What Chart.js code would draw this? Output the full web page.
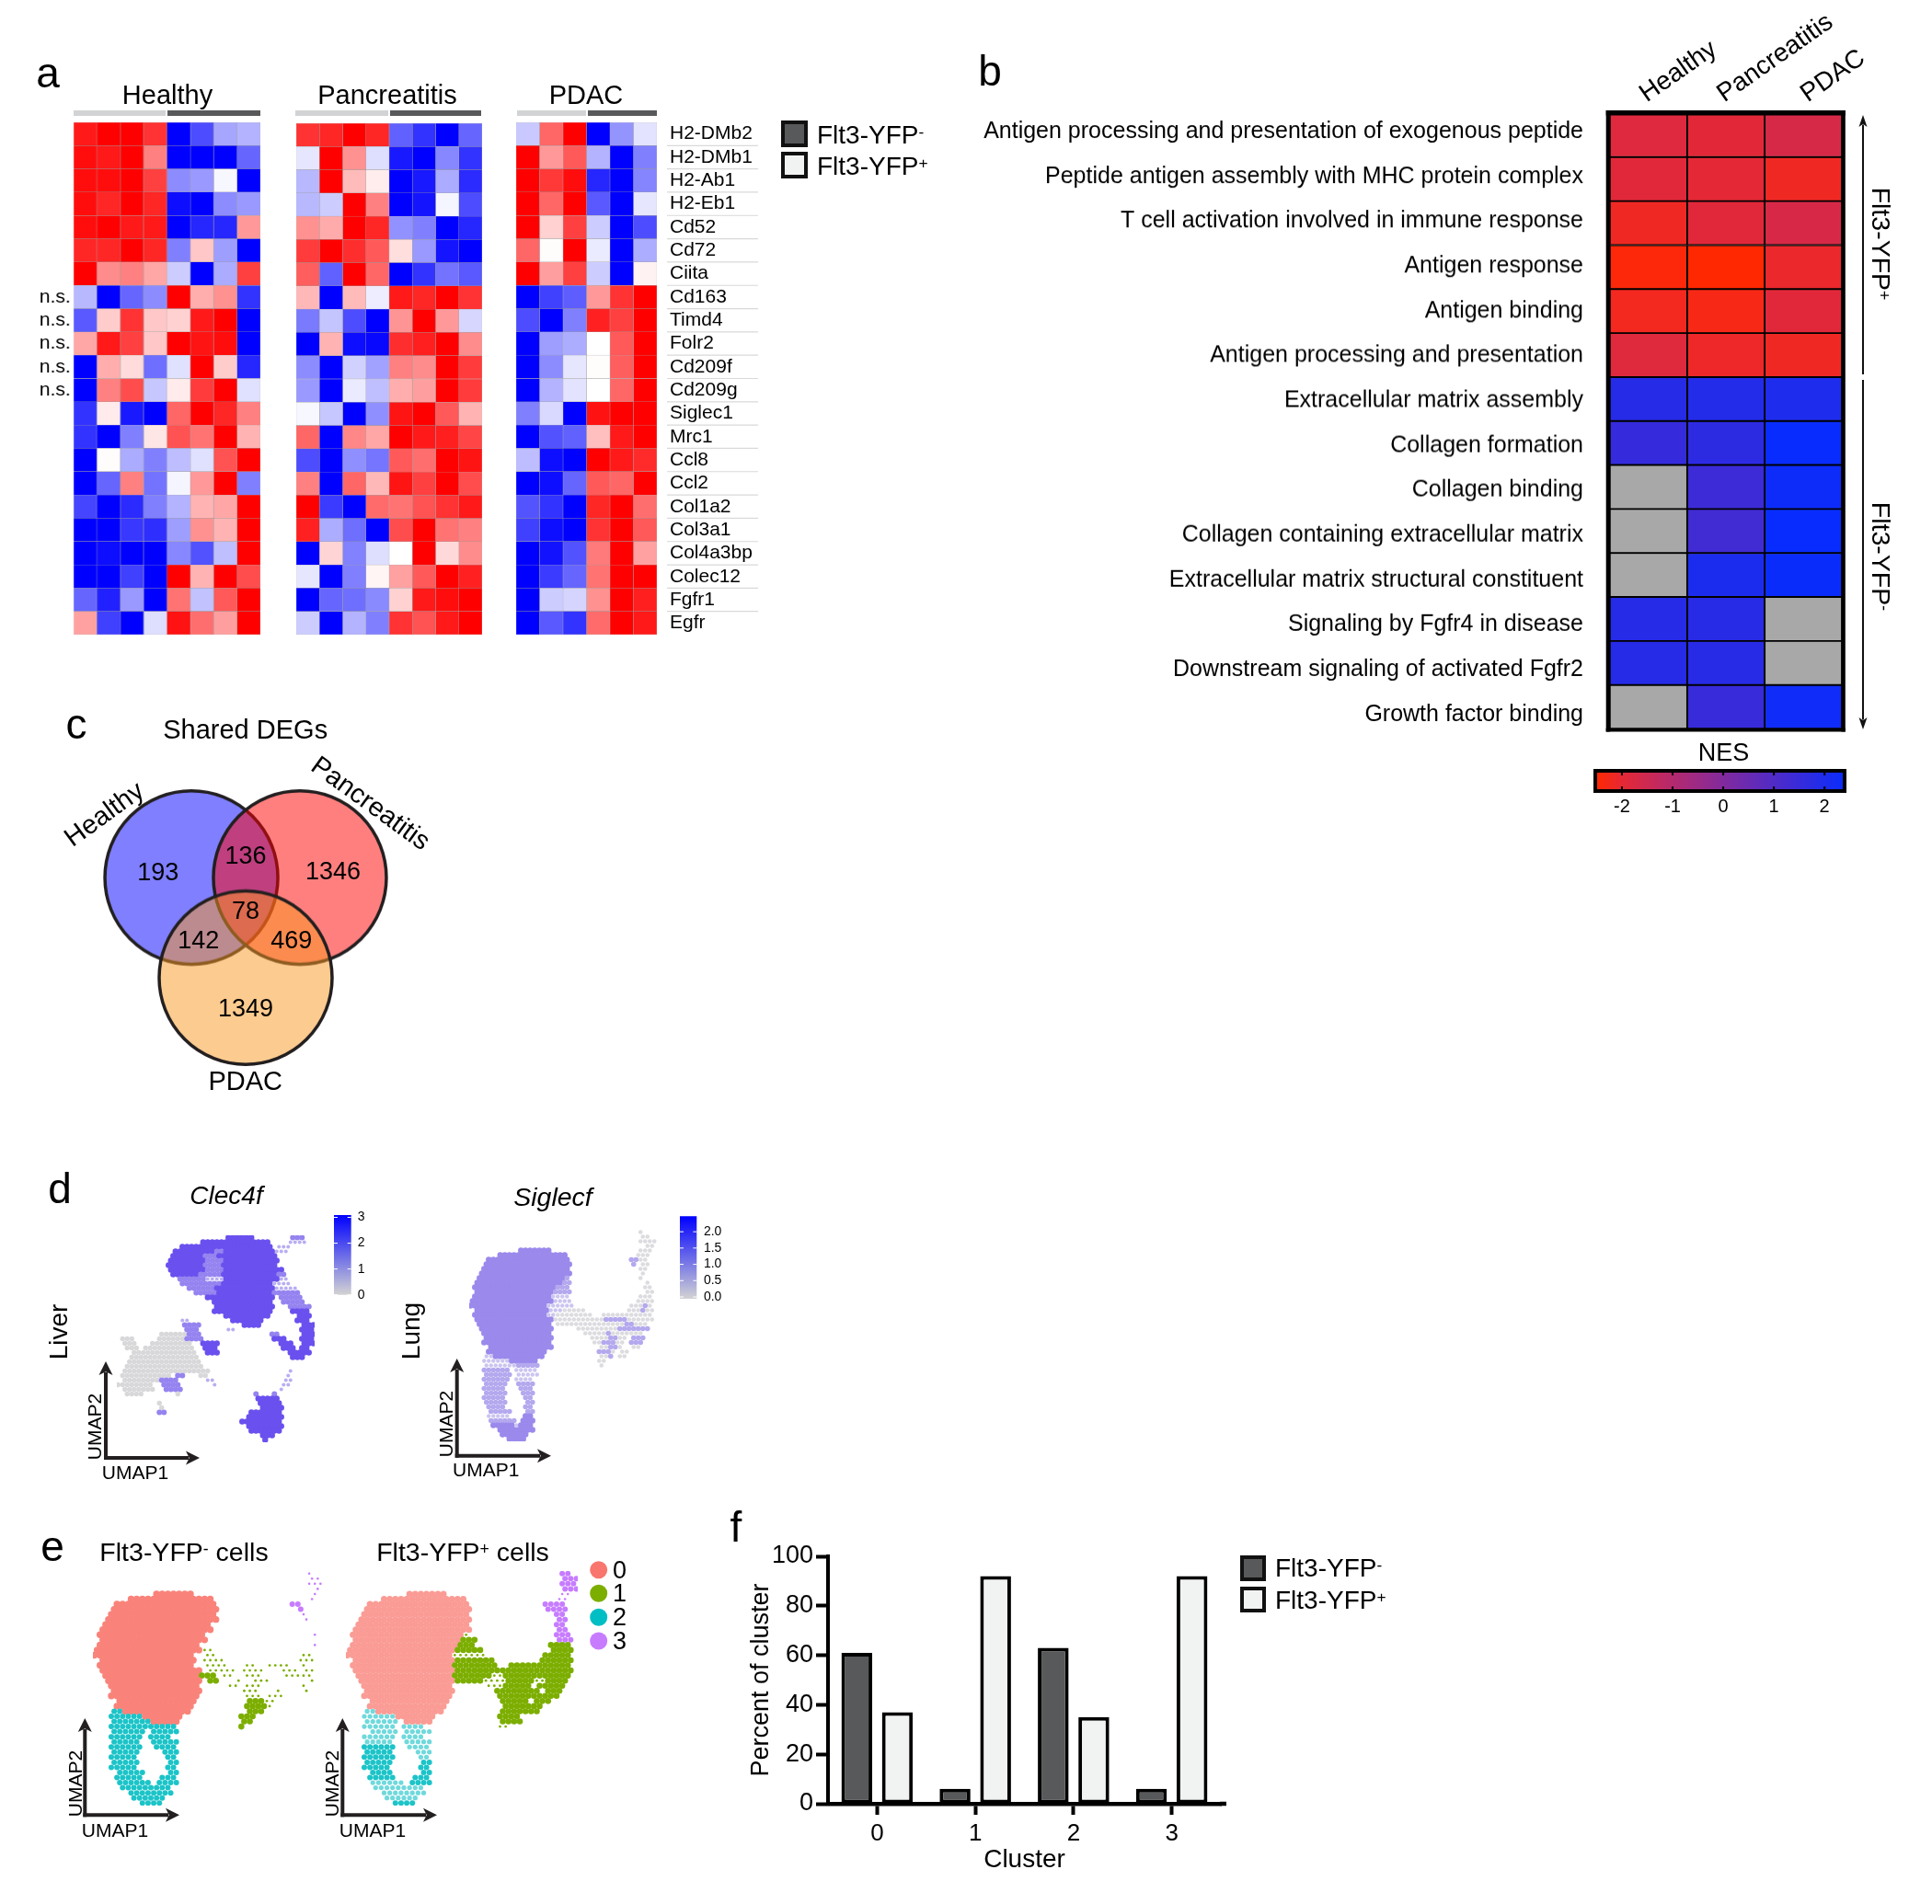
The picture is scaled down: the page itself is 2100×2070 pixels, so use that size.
<!DOCTYPE html>
<html><head><meta charset="utf-8">
<script src="https://cdn.jsdelivr.net/npm/chart.js@4"></script>
<style>
html,body{margin:0;padding:0;background:#fff;width:2100px;height:2070px;overflow:hidden}
canvas{position:absolute;display:block}
.t{position:absolute;font-family:"Liberation Sans",Arial,sans-serif;color:#000;white-space:nowrap;line-height:1}
.t sup{font-size:62%;line-height:0;vertical-align:baseline;position:relative;top:-.42em}
.k{position:absolute;box-sizing:border-box;border:4px solid #111}
svg{position:absolute;left:0;top:0}
</style></head><body>
<svg id="ov" width="2100" height="2070"></svg>
<script>
/* ---------- panel a ---------- */
const genes=["H2-DMb2","H2-DMb1","H2-Ab1","H2-Eb1","Cd52","Cd72","Ciita","Cd163","Timd4","Folr2","Cd209f","Cd209g","Siglec1","Mrc1","Ccl8","Ccl2","Col1a2","Col3a1","Col4a3bp","Colec12","Fgfr1","Egfr"];
const nsGenes=["Cd163","Timd4","Folr2","Cd209f","Cd209g"];
const healthyZ=[
[9,10,10,8,-10,-7,-3.5,-3],[9.5,9,10,5,-10,-10,-10,-6],[9.5,9.5,10,7.5,-4.5,-4,-.3,-10],[9.5,8.5,10,8.5,-9.5,-10,-4.5,-4],
[9.5,10,9,9,-10,-8.5,-8.5,4],[8.5,8.5,10,8.5,-5,2.2,-3.8,-10],[10,4.5,5,3.5,-2,-10,-3.3,7.5],[-2.8,-10,-6,-4.5,10,3.2,4.3,-8],
[-6.5,2,8,2.2,1.8,9,10,-10],[3.5,9,7.5,2.2,10,9.2,9.5,-10],[-10,3.2,1.4,-5.7,-1.2,10,2,-8.5],[-10,5,7,-2.2,.8,7.7,10,-1.2],
[-8,.8,-9,-10,6,10,8.5,5],[-8,-10,-5,1,6.8,5.5,10,3],[-10,.1,-3.3,-5,-2.6,-1.2,6.8,10],[-10,-6,5,-5.5,-.4,4,10,-5],
[-7.3,-10,-8.3,-5,-3,3,3.5,10],[-10,-10,-7.8,-8.2,-3.8,4.3,3,10],[-10,-9.5,-10,-10,-4.7,-6.8,-2.5,10],[-10,-10,-7.5,-10,10,3,10,7],
[-6,-8.7,-4,-10,5.5,-2.4,6.5,10],[3.7,-7.5,-10,-1.3,9.3,5.7,3.8,10]];
const pancreatitisZ=[
[8,8.5,10,8.5,-6.2,-8,-10,-6],[-1,10,4.3,-1.3,-9,-10,-4.7,-8],[-2.8,10,2.7,.7,-10,-9,-3.3,-8.3],[-2.8,-2,10,5,-10,-9.2,-.4,-7],
[4.3,3.3,10,8.5,-4.3,-5,-10,-8.5],[7.7,10,8.2,6.5,1.3,-4,-9.2,-10],[6.3,-6.2,10,6,-10,-8,-5.5,-6.5],[2.8,-10,2.7,-.7,9,8.5,10,8],
[-5.2,-2.3,-7,-10,4.2,10,4,-1.6],[-10,3,-9.5,-9.7,8.2,8.8,10,4.5],[-4.5,-10,-1.8,-3.7,5,4.5,10,7.7],[-4,-10,-.8,-2.5,3.2,3.8,10,7.7],
[-.3,-2.2,-10,-4.4,9.2,10,6.5,3],[6,-10,4.7,3.5,10,9,8.8,7.3],[-7,-10,-4.4,-5.4,6.5,5.7,10,9.2],[5,-10,6,2.8,9.2,7.5,10,7],
[10,-7.7,-10,5.8,5.5,6.8,8,9],[8.7,-3.2,-5.7,-10,7,10,5.5,5],[-10,1.7,-4.9,-1.3,0,10,1.5,4.5],[-1,-10,-5,.4,3.7,6.5,10,8.7],
[-10,-6,-5.7,-4.6,1.8,9,9.5,10],[-2,-10,-3,-5,8,6.8,9,10]];
const pdacZ=[
[-2.1,6,10,-10,-4.2,-1.1],[10,4,6.5,-3,-10,-5],[10,7.8,9.5,-8.5,-10,-4.8],[10,6,10,-6.5,-10,-1],[10,1.8,7.5,-2,-10,-7],[6,.1,10,-.8,-10,-3.2],
[10,3.8,7.5,-2,-10,.5],[-10,-7.5,-6.3,4,8,10],[-7,-10,-5,8.7,7.5,10],[-10,-3.8,-3.2,0,6.5,10],[-10,-4.5,-1,.1,6.3,10],[-10,-3,-1.1,0,6,10],
[-5,-1.5,-10,9.3,10,10],[-10,-6.8,-6.2,2.5,9,10],[-2.6,-9.5,-10,10,9,8.3],[-10,-9.5,-6,6.5,6,10],[-6.7,-8,-10,8.5,10,5.7],[-7.5,-9.5,-10,8,10,6.5],
[-10,-9.3,-6.8,5.2,10,3.7],[-10,-7.7,-6,5.5,10,10],[-10,-2,-1.7,4.3,10,8.8],[-10,-6.5,-8,5.8,10,9]];
/* ---------- panel b ---------- */
const pathways=["Antigen processing and presentation of exogenous peptide","Peptide antigen assembly with MHC protein complex","T cell activation involved in immune response","Antigen response","Antigen binding","Antigen processing and presentation","Extracellular matrix assembly","Collagen formation","Collagen binding","Collagen containing extracellular matrix","Extracellular matrix structural constituent","Signaling by Fgfr4 in disease","Downstream signaling of activated Fgfr2","Growth factor binding"];
const conditions=["Healthy","Pancreatitis","PDAC"];
const nes=[[-1.84,-1.92,-1.68],[-1.9,-1.95,-2.2],[-2.2,-1.9,-1.7],[-2.45,-2.5,-2.1],[-2.25,-2.35,-1.9],[-1.85,-2.15,-2.2],
[1.85,1.9,2.0],[1.55,1.7,2.45],[null,1.4,2.35],[null,1.3,2.45],[null,2.05,2.4],[1.85,1.8,null],[1.85,1.8,null],[null,1.5,2.3]];
const nesTicks=[-2,-1,0,1,2];
/* ---------- panel c ---------- */
const vennSets=["Healthy","Pancreatitis","PDAC"];
const vennX=[-1,1,0], vennY=[.92,.92,-.92];
const vennCounts={healthy:193,healthyPanc:136,panc:1346,all:78,healthyPdac:142,pancPdac:469,pdac:1349};
/* ---------- panels d, e: occupancy grids read from the UMAPs, one string per row: "col-col code" ---------- */
const liverRows=["24-29# 38-40o","18-32# 37-40.","14-33# 35-37.","12-20# 21-22o 23-33# 34-36.","12-18# 19-21o 22-34#","11-18# 19-22o 23-34#","11-18# 19-22o 23-34#","11-18# 19-22o 23-35#","12-17# 18-22o 23-34# 35-36o","13-18o 19-22. 23-34# 35-36.","14-19o 20-22o 23-33# 34-37.","15-20o 21-33# 34-38.","17-21o 22-33# 34o 35-39o","19-33# 35-39o","21-33# 36-40o","21-33# 37-41o","21-33# 38-41#","23-32# 39-41#","14-15. 25-31# 39-41#","14-17o 27-30# 40-42#","15-17o 24-25. 40-42#","9-14, 15-17o 33-34o 40-42#","1-3, 9-14, 15-18o 34-36# 40-42#","1-3, 7-15, 18-21# 35-37# 40-42#","2-4, 6-16, 19-21# 36-38# 40-41#","3-16, 19-21# 37-41#","3-17, 38-40#","2-17,","2-18,","1-19, 37.","1-11, 13-14o 18-19, 37.","1-8, 9-12o 19-20. 36-37.","0-7, 10-13o 21. 36-37.","1-7, 10-13o 35.","2-5, 13, 30o 34o","30-34#","9, 31-35#","9, 31-35#","9-10o 29-35#","28-35#","27-35#","28-35#","29-35#","31-33#","32#"];
const lungRows=["37,","37-38,","37-40,","38-39,","11-17# 37-39,","6-20# 36-38,","4-21# 35-36o 37-38,","3-21# 35o 37-38,","3-21# 37-38,","2-21# 37,","2-20# 21o 37,","1-19# 20-21o 38,","1-18# 19-21o 38-39,","1-17# 18-21o 38-39,","1-17# 18-21. 37-39,","0-17# 18-21. 36-39,","0-16# 17-22. 35-37, 38o 39,","1-16# 17-19. 20-24, 34-36, 37o 38-39,","1-16# 17-18. 19-26, 29-39,","1-17# 18-28, 29-33o 34-39,","2-17# 19-27, 28-33, 34-35o 36-38,","2-17# 23-26, 27-31, 32-38o","3-17# 25-29, 30o 31-37,","3-17# 26-29, 30-31o 32-33, 35-37o","3-17# 27-28, 29-31o 32-33, 35-37o","4-17# 28-29, 30-31o 32, 35-36,","4-16# 28-30o 31, 33-34,","3-4. 5-15# 28-29, 30o 32-33,","3-8. 9-14# 28-29,","3-9. 10-14o 28,","3-8o 10-14.","3-8o 10-14.","3-8o 10-13.","3-7o 10-13o","3-7o 11-13o","3-7o 11-13o","3-7o 12-13o","3-7o 12-13o","4-7o 12-13o","4-8o 12-13o","4-8. 12-13#","4-9o 11-13#","5-9# 10. 11-13#","6-13#","7-12#","8-11#"];
const yfpNegRows=["38d","38-39d","38-40d","39d","11-17A 39d","6-20A 38d","4-21A 35-36D","3-21A 36D","3-21A 37d","2-21A 37d","2-20A","1-20A","1-19A 39d","1-19A","1-18A 39d","0-18A 19-20b","0-17A 20-21b 37-38b","1-17A 19-22b 36-38b","1-17A 20-23b 27-28b 31-34b 37b","1-18A 20-24b 26-29b 33-35b 37-38b","2-18A 19-21B 23-24b 27-29b 34-38b","2-18A 20-21B 25b 28-30b 38b","3-18A 24-25b 27-29b 37b","3-18A 26-28b 32b 37b","3-18A 27-29b 31-33b","4-17A 27-29B 30-31b","4-17A 27-30B 31b","3-4C 5-16A 27-29B","3-8C 9-15A 26-28B","3-9C 10-14A 26-27B","3-9C 10-14C 26B","3-8C 10-14C","3-8C 10-13C","3-7C 10-14C","3-8C 11-14C","3-7C 12-14C","3-7C 13-14C","3-7C 13-14C","3-7C 13-14C","4-8C 13-14C","4-8C 12-14C","4-9C 11-14C","5-13C","6-13C","7-12C","8-11C"];
const yfpPosRows=["38-39D","38-40D","38-40D","38-40D","11-17a 38-39d","6-20a 37-38d","4-21a 35-38D","3-21a 35-36D 37-38D","3-21a 37-38D","2-21a 37-38D","2-21a 37-38D","1-21a 37-38D","1-20a 21b 37-39D","1-19a 20-22B 37-39D","1-19a 20-22B 36-39B","0-18a 19-23B 36-39B","0-18a 19-24b 35-39B","1-18a 19-25B 34-39B","1-18a 19-26B 29-39B","1-18a 19-27B 28-39B","2-18a 19-25B 26-27b 28-33B 34-39B","2-18a 19-23B 24-27b 28-32B 33-34b 35-38B","3-18a 25-27b 28-32B 34-38B","3-18a 26-33B 35-37B","3-18a 27-32B 33-34B 35-37B","4-17a 27-31B 33-35B","4-17a 28-31B 32-34B","3-4c 5-16a 27-31B 32-33B","3-8c 9-15a 27-30B","3-8c 10-14a 27-30B","3-8c 10-13c 27-28b","4-8c 10-14c","3-8c 10-13c","3-7c 10-14c","3-8C 11-14c","3-7C 12-14c","3-8C 13-14c","3-7C 13-14C","3-7C 13-14C","4-7C 13-14C","4-8C 12-14C","4-9c 11-14C","5-13c","6-13c","7-12c","8-11C"];
const clec4fTicks=[0,1,2,3], siglecfTicks=[0,.5,1,1.5,2];
/* ---------- panel f ---------- */
const clusters=["0","1","2","3"];
const yfpNegPercent=[61,6,63,6];
const yfpPosPercent=[37,92,35,92];
const percentTicks=[0,20,40,60,80,100];

/* ---------- helpers ---------- */
const FF='"Liberation Sans",Arial,sans-serif';
Chart.defaults.font.family=FF;Chart.defaults.color='#000';Chart.defaults.animation=false;
Chart.defaults.responsive=false;Chart.defaults.plugins.legend.display=false;Chart.defaults.plugins.tooltip.enabled=false;
Chart.defaults.events=[];Chart.defaults.layout.autoPadding=false;
function mk(l,t,w,h){const c=document.createElement('canvas');c.width=w;c.height=h;c.style.left=l+'px';c.style.top=t+'px';c.style.width=w+'px';c.style.height=h+'px';document.body.insertBefore(c,document.getElementById('ov'));return c}
const fit=(w,h)=>s=>{if(w!=null)s.width=w;if(h!=null)s.height=h;s.paddingLeft=s.paddingRight=s.paddingTop=s.paddingBottom=0};
const noGrid={display:false,drawTicks:false};
function T(html,x,y,o={}){const d=document.createElement('div');d.className='t';d.innerHTML=html;const a=o.a||'c';const tx=a=='c'?'-50%':a=='r'?'-100%':'0';
 d.style.cssText=`left:${x}px;top:${y}px;font-size:${o.s||29}px;${o.i?'font-style:italic;':''}transform:translate(${tx},-50%) rotate(${o.r||0}deg)`;document.body.appendChild(d)}
const ov=document.getElementById('ov');
function svgEl(n,at){const e=document.createElementNS('http://www.w3.org/2000/svg',n);for(const k in at)e.setAttribute(k,at[k]);ov.appendChild(e)}
function arrow(x1,y1,x2,y2,w,hl,hw,col){const L=Math.hypot(x2-x1,y2-y1),ux=(x2-x1)/L,uy=(y2-y1)/L;
 svgEl('line',{x1,y1,x2:x2-ux*hl*.8,y2:y2-uy*hl*.8,stroke:col,'stroke-width':w});
 const bx=x2-ux*hl,by=y2-uy*hl,nx=-uy*hw/2,ny=ux*hw/2;
 svgEl('polygon',{points:`${x2},${y2} ${bx+nx},${by+ny} ${bx+ux*hl*.25},${by+uy*hl*.25} ${bx-nx},${by-ny}`,fill:col})}
function box(x,y,w,h,fill){const d=document.createElement('div');d.style.cssText=`position:absolute;left:${x}px;top:${y}px;width:${w}px;height:${h}px;background:${fill}`;document.body.appendChild(d)}
function key(x,y,w,h,fill){const d=document.createElement('div');d.className='k';d.style.cssText=`left:${x}px;top:${y}px;width:${w}px;height:${h}px;background:${fill}`;document.body.appendChild(d)}
function zColor(v){const t=Math.min(1,Math.abs(v)/10),q=Math.round(255*(1-t));return v>=0?`rgb(255,${q},${q})`:`rgb(${q},${q},255)`}
function nesColor(n){if(n===null)return '#a8a8a8';const t=Math.max(0,Math.min(1,(n+2.5)/5));return `rgb(${Math.round(255-t*250)},${Math.round(40+4*t)},${Math.round(255*Math.pow(t,.7))})`}
function heatDatasets(rows,matrix,colorFn,bw,bc){const n=matrix[0].length,ds=[];for(let c=0;c<n;c++)ds.push({data:rows.map(()=>[c,c+1]),backgroundColor:rows.map((_,r)=>colorFn(matrix[r][c])),borderWidth:bw,borderColor:bc,borderSkipped:false,barPercentage:1,categoryPercentage:1,grouped:false});return ds}
const barBase={indexAxis:'y'};

/* panel a heatmaps */
new Chart(mk(30,132.6,252.7,557.4),{type:'bar',data:{labels:genes,datasets:heatDatasets(genes,healthyZ,zColor,.5,'rgba(120,120,120,.55)')},options:{...barBase,
 scales:{x:{display:false,min:0,max:8},y:{position:'left',afterFit:fit(49.7),grid:noGrid,border:{display:false},ticks:{autoSkip:false,padding:3,font:{size:21},callback:(v,i)=>nsGenes.includes(genes[i])?'n.s.':''}}}}});
new Chart(mk(322,133.5,202,556.5),{type:'bar',data:{labels:genes,datasets:heatDatasets(genes,pancreatitisZ,zColor,.5,'rgba(120,120,120,.55)')},options:{...barBase,
 scales:{x:{display:false,min:0,max:8},y:{display:false}}}});
const geneRules={id:'geneRules',afterDraw(ch){const {ctx,chartArea:a}=ch;ctx.save();ctx.strokeStyle='#d9d9d9';ctx.lineWidth=1.2;const h=(a.bottom-a.top)/genes.length;for(let i=1;i<genes.length;i++){const p=a.top+i*h;ctx.beginPath();ctx.moveTo(a.right+11,p);ctx.lineTo(a.right+110,p);ctx.stroke()}ctx.restore()}};
new Chart(mk(560.7,132.6,274,557.4),{type:'bar',data:{labels:genes,datasets:heatDatasets(genes,pdacZ,zColor,.5,'rgba(120,120,120,.55)')},plugins:[geneRules],options:{...barBase,
 scales:{x:{display:false,min:0,max:6},y:{position:'right',afterFit:fit(121),grid:noGrid,border:{display:false},ticks:{autoSkip:false,padding:14,font:{size:21}}}}}});
box(79.7,120,100,6,'#d1d3d4');box(181.7,120,101,6,'#58595b');box(321,120,101,6,'#d1d3d4');box(424,120,99,6,'#58595b');box(561.7,120,75.3,6,'#d1d3d4');box(639,120,75.3,6,'#58595b');
T('Healthy',182,103);T('Pancreatitis',421,103);T('PDAC',637,103);
key(849,131.4,28.7,28.6,'#58595b');key(849,165,28.7,29,'#f1f2f2');
T('Flt3-YFP<sup>-</sup>',888,147,{a:'l',s:28});T('Flt3-YFP<sup>+</sup>',888,181,{a:'l',s:28});

/* panel b */
const bFrame={id:'bFrame',afterDraw(ch){const {ctx,chartArea:a}=ch;ctx.save();ctx.fillStyle='#000';
 ctx.fillRect(a.left-4,a.top-3,a.right-a.left+7.5,5.5);ctx.fillRect(a.left-4,a.bottom-1,a.right-a.left+7.5,4);
 ctx.fillRect(a.left-4,a.top-3,4.5,a.bottom-a.top+6);ctx.fillRect(a.right-1,a.top-3,4.5,a.bottom-a.top+6);ctx.restore()}};
new Chart(mk(1740,0,300,800),{type:'bar',data:{labels:pathways,datasets:heatDatasets(pathways,nes,nesColor,1.3,'#000')},plugins:[bFrame],options:{...barBase,
 layout:{padding:{left:9.7,right:37.7,bottom:7.5}},
 scales:{y:{display:false},x:{position:'top',type:'linear',min:0,max:3,afterFit:fit(null,123),afterBuildTicks:s=>{s.ticks=conditions.map((_,i)=>({value:i+.5+(i==2?.08:0)}))},grid:noGrid,border:{display:false},
  ticks:{autoSkip:false,minRotation:35,maxRotation:35,padding:4,labelOffset:13,font:{size:28},callback:(v,i)=>conditions[i]}}}}});
new Chart(mk(1060,118.8,670,681.8),{type:'bar',data:{labels:pathways,datasets:[]},options:{...barBase,
 scales:{x:{display:false,min:0,max:1},y:{display:true,type:'category',position:'left',afterFit:fit(666),grid:noGrid,border:{display:false},ticks:{autoSkip:false,padding:5,font:{size:25}}}}}});
arrow(2025,407,2025,125,2,13,9,'#111');arrow(2025,413,2025,793,2,13,9,'#111');
T('Flt3-YFP<sup>+</sup>',2045,265,{s:28.5,r:90});T('Flt3-YFP<sup>-</sup>',2045,605,{s:28.5,r:90});
/* NES colour bar */
const nesGrad=c=>{const a=c.chart.chartArea;if(!a)return '#888';const g=c.chart.ctx.createLinearGradient(a.left,0,a.right,0);for(let i=0;i<=10;i++)g.addColorStop(i/10,nesColor(-2.49+i*.485));return g};
const nesFrame={id:'nesFrame',afterDraw(ch){const {ctx,chartArea:a,scales:{x}}=ch;ctx.save();ctx.strokeStyle='#000';ctx.lineWidth=4;ctx.strokeRect(a.left-2,a.top-2,a.right-a.left+4,a.bottom-a.top+4);ctx.lineWidth=2;
 nesTicks.forEach(v=>{const p=x.getPixelForValue(v);ctx.beginPath();ctx.moveTo(p,a.top);ctx.lineTo(p,a.top+3);ctx.moveTo(p,a.bottom-3);ctx.lineTo(p,a.bottom);ctx.stroke()});ctx.restore()}};
new Chart(mk(1700,830,340,62),{type:'bar',data:{labels:['NES'],datasets:[{data:[[-2.49,2.36]],backgroundColor:nesGrad,barPercentage:1,categoryPercentage:1}]},plugins:[nesFrame],options:{...barBase,
 layout:{padding:{left:36,right:37,top:10}},scales:{y:{display:false},x:{type:'linear',min:-2.49,max:2.36,afterFit:fit(null,34),afterBuildTicks:s=>{s.ticks=nesTicks.map(v=>({value:v}))},grid:noGrid,border:{display:false},ticks:{padding:7,font:{size:20},callback:v=>String(v)}}}}});
T('NES',1873.6,818,{s:27});

/* panel c */
const vennColors=['rgba(0,0,255,.5)','rgba(255,0,0,.5)','rgba(249,151,31,.5)'];
new Chart(mk(95.6,849,342,318.6),{type:'bubble',data:{datasets:vennSets.map((s,i)=>({label:s,order:2-i,clip:false,data:[{x:vennX[i],y:vennY[i],r:94}],backgroundColor:vennColors[i],borderColor:'#231f20',borderWidth:3.5}))},
 options:{scales:{x:{display:false,min:-2.9,max:2.9},y:{display:false,min:-2.7,max:2.7}}}});
T('Shared DEGs',266.7,793);T('PDAC',266.7,1175);T('Healthy',113,885,{r:-36});T('Pancreatitis',403,873,{r:36});
T(vennCounts.healthy,171.7,948.3,{s:27});T(vennCounts.healthyPanc,267,930,{s:27});T(vennCounts.panc,362,947,{s:27});T(vennCounts.all,267,990,{s:27});
T(vennCounts.healthyPdac,215.7,1022,{s:27});T(vennCounts.pancPdac,316.7,1022,{s:27});T(vennCounts.pdac,267,1095.7,{s:27});

/* UMAP scatters */
function cells(rows){const pts=[];rows.forEach((s,r)=>s.split(' ').forEach(tok=>{const m=tok.match(/^(\d+)(?:-(\d+))?(.)$/);if(!m)return;for(let c=+m[1];c<=+(m[2]||m[1]);c++)pts.push({x:c+.5+(r%2?.25:-.25),y:r+.5,d:m[3]})}));return pts}
function umap(rows,l,t,w,h,cols,style){const nr=rows.length;
 new Chart(mk(l,t,w,h),{type:'scatter',data:{datasets:[{data:cells(rows),showLine:false,clip:false,pointBorderWidth:0,
  pointBackgroundColor:c=>style[c.raw.d][0],pointRadius:c=>style[c.raw.d][1]}]},options:{scales:{x:{display:false,min:0,max:cols},y:{display:false,reverse:true,min:0,max:nr}}}})}
umap(liverRows,127.3,1343.3,215,225,43,{'#':['#6a50ee',3.2],'o':['#9584f0',3],'.':['#b8aef2',2],',':['#d8d8da',2.7]});
umap(lungRows,510,1336.7,205,230,41,{'#':['#9b89ec',3.2],'o':['#b4a8ee',2.8],'.':['#cbc5f0',2.2],',':['#dcdce0',2.3]});
const ggStyle={A:['#f9837a',3.7],a:['#fa9c95',3.5],B:['#7CAE00',3.3],b:['#7CAE00',1.4],C:['#1cc4c8',3],c:['#6fd9dc',2.6],D:['#C77CFF',3],d:['#C77CFF',1.3]};
umap(yfpNegRows,100.5,1708,252,255,41,ggStyle);
umap(yfpPosRows,375.5,1708,252,255,41,ggStyle);
/* expression colour bars */
function colorBar(l,t,w,h,pad,axisW,tickPad,min,max,ticks,fmt){
 const grad=c=>{const a=c.chart.chartArea;if(!a)return '#888';const g=c.chart.ctx.createLinearGradient(0,a.bottom,0,a.top);g.addColorStop(0,'#d3d3d3');g.addColorStop(1,'#0000ff');return g};
 const marks={id:'marks',afterDraw(ch){const {ctx,chartArea:a,scales:{y}}=ch;ctx.save();ctx.strokeStyle='#fff';ctx.lineWidth=1;ticks.forEach(v=>{const p=y.getPixelForValue(v);ctx.beginPath();ctx.moveTo(a.left,p);ctx.lineTo(a.left+4,p);ctx.moveTo(a.right-4,p);ctx.lineTo(a.right,p);ctx.stroke()});ctx.restore()}};
 new Chart(mk(l,t,w,h),{type:'bar',data:{labels:['expression'],datasets:[{data:[[min,max]],backgroundColor:grad,barPercentage:1,categoryPercentage:1}]},plugins:[marks],options:{layout:{padding:pad},
  scales:{x:{display:false},y:{position:'right',type:'linear',min,max,afterFit:fit(axisW),afterBuildTicks:s=>{s.ticks=ticks.map(v=>({value:v}))},grid:noGrid,border:{display:false},ticks:{padding:tickPad,font:{size:14},callback:fmt}}}}})}
colorBar(363,1311,55,108,{top:10,bottom:11.3},36.3,7,0,3.09,clec4fTicks,v=>String(v));
colorBar(739.3,1312,62,110,{top:10.3,bottom:10},43.6,7.5,-.056,2.475,siglecfTicks,v=>v.toFixed(1));

T('Clec4f',246,1300,{i:1,s:28});T('Siglecf',601,1301,{i:1,s:28.5});T('Liver',64,1448,{r:-90,s:28});T('Lung',447,1447,{r:-90,s:28});
const AC='#231f20';
function umapAxes(cx,cy,tipY,tipX,lab2x,lab2y,lab1x,lab1y){arrow(cx,cy+2,cx,tipY,4,15,15,AC);arrow(cx-2,cy,tipX,cy,4,15,15,AC);T('UMAP2',lab2x,lab2y,{s:21,r:-90});T('UMAP1',lab1x,lab1y,{s:21})}
umapAxes(115,1585,1480,217,101.7,1551,147,1600);
umapAxes(496.7,1582.7,1477,599,484,1548,528.3,1597);
umapAxes(92.3,1973.3,1868,195,80.7,1939,125,1989.3);
umapAxes(372.3,1973.3,1868,475,360,1939,405,1989.3);
T('Flt3-YFP<sup>-</sup> cells',200,1687,{s:28.5});T('Flt3-YFP<sup>+</sup> cells',503,1687,{s:28.5});
clusters.forEach((c,i)=>{const y=[1706.7,1732.3,1758.3,1784][i],col=['#F8766D','#7CAE00','#00BFC4','#C77CFF'][i];svgEl('circle',{cx:650.7,cy:y,r:9.5,fill:col});T(c,666,y,{a:'l',s:27})});

/* panel f */
const axisExtend={id:'axisExtend',afterDraw(ch){const {ctx,chartArea:a}=ch;ctx.save();ctx.fillStyle='#000';ctx.fillRect(a.right-1,a.bottom-2.25,7,4.5);ctx.restore()}};
new Chart(mk(780,1663,570,380),{type:'bar',data:{labels:clusters,datasets:[
 {label:'Flt3-YFP-',data:yfpNegPercent,backgroundColor:'#58595b',borderColor:'#000',borderWidth:4,borderSkipped:false,categoryPercentage:.826,barPercentage:.76},
 {label:'Flt3-YFP+',data:yfpPosPercent,backgroundColor:'#f1f2f2',borderColor:'#000',borderWidth:4,borderSkipped:false,categoryPercentage:.826,barPercentage:.76}]},
 plugins:[axisExtend],options:{layout:{padding:{top:29,right:23}},scales:{
 x:{afterFit:fit(null,82),grid:{offset:false,drawOnChartArea:false,tickLength:12,tickWidth:4,tickColor:'#000'},border:{color:'#000',width:4.5},ticks:{padding:5,font:{size:26}},title:{display:true,text:'Cluster',font:{size:28},padding:{top:0,bottom:4}}},
 y:{min:0,max:100,afterFit:fit(120),afterBuildTicks:s=>{s.ticks=percentTicks.map(v=>({value:v}))},grid:{drawOnChartArea:false,tickLength:13,tickWidth:4,tickColor:'#000'},border:{color:'#000',width:4},ticks:{padding:3,font:{size:27}},title:{display:true,text:'Percent of cluster',font:{size:27},padding:{top:31,bottom:0}}}}}});
key(1348,1690.7,28,28,'#58595b');key(1348,1724.7,28,28,'#f1f2f2');
T('Flt3-YFP<sup>-</sup>',1386,1705,{a:'l',s:28});T('Flt3-YFP<sup>+</sup>',1386,1740,{a:'l',s:28});

/* panel letters */
T('a',52,79,{s:46});T('b',1076,77,{s:46});T('c',83,787,{s:46});T('d',65,1292,{s:46});T('e',57,1681,{s:46});T('f',800,1660,{s:46});
</script>
</body></html>
